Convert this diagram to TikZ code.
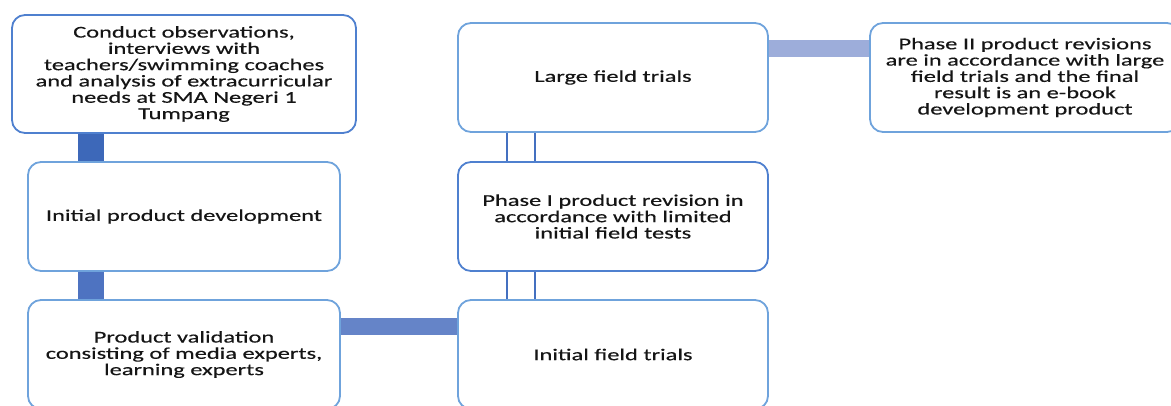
\documentclass[tikz,border=0pt]{standalone}
\usepackage{fontspec}
\setmainfont{Carlito}
\newfontfamily\bxfont[FakeStretch=1.48,FakeBold=0.4]{Carlito}
\usetikzlibrary{calc,backgrounds}
\definecolor{lineDark}{HTML}{4F80CF}
\definecolor{lineLight}{HTML}{6FA3DC}
\definecolor{barAB}{HTML}{3D68B9}
\definecolor{barBC}{HTML}{4E73C1}
\definecolor{barCD}{HTML}{6584C8}
\definecolor{barFG}{HTML}{9DADDA}
\definecolor{thinline}{HTML}{4470C0}
\definecolor{textc}{HTML}{151515}
\begin{document}
\begin{tikzpicture}[x=1pt,y=-1pt,
  box/.style={draw=lineLight, line width=1.8pt, rounded corners=13pt, fill=white,
    align=center, inner sep=0pt, text=textc,
    font=\bxfont\fontsize{16.5}{16.3}\selectfont},
  widebox/.style={box, minimum width=310pt, minimum height=109pt},
  bar/.style={line width=#1},
  thin/.style={draw=thinline, line width=2pt}]
\useasboundingbox (0,0) rectangle (1171,406);
\clip (0,0) rectangle (1171,406);
\node[box, draw=lineDark, minimum width=344pt, minimum height=118pt] (A) at (184,74)
  {Conduct observations,\\interviews with\\teachers/swimming coaches\\and analysis of extracurricular\\needs at SMA Negeri 1\\Tumpang};
\node[box, minimum width=312pt, minimum height=109pt] (B) at (184,216.5) {Initial product development};
\node[box, minimum width=312pt, minimum height=109pt] (C) at (184,354.5)
  {Product validation\\consisting of media experts,\\learning experts};
\node[widebox] (D) at (613,354.5) {Initial field trials};
\node[widebox, draw=lineDark] (E) at (613,216.5)
  {Phase I product revision in\\accordance with limited\\initial field tests};
\node[widebox] (F) at (613,77.5) {Large field trials};
\node[widebox] (G) at (1025,77.5)
  {Phase II product revisions\\are in accordance with large\\field trials and the final\\result is an e-book\\development product};
\begin{scope}[on background layer]
\draw[bar=26pt, barAB] ([xshift=64pt]B.north west) -- ([xshift=64pt]B.north west |- A.south);
\draw[bar=26pt, barBC] ([xshift=64pt]B.south west) -- ([xshift=64pt]C.north west);
\draw[bar=17pt, barCD] ([yshift=-27.5pt]C.north east) -- ([yshift=-27.5pt]C.north east -| D.west);
\draw[bar=17pt, barFG] ([yshift=-26.5pt]F.north east) -- ([yshift=-26.5pt]F.north east -| G.west);
\draw[thin] ([xshift=50pt]D.north west) -- ([xshift=50pt]E.south west);
\draw[thin] ([xshift=78pt]D.north west) -- ([xshift=78pt]E.south west);
\draw[thin] ([xshift=50pt]E.north west) -- ([xshift=50pt]F.south west);
\draw[thin] ([xshift=78pt]E.north west) -- ([xshift=78pt]F.south west);
\end{scope}
\end{tikzpicture}
\end{document}
